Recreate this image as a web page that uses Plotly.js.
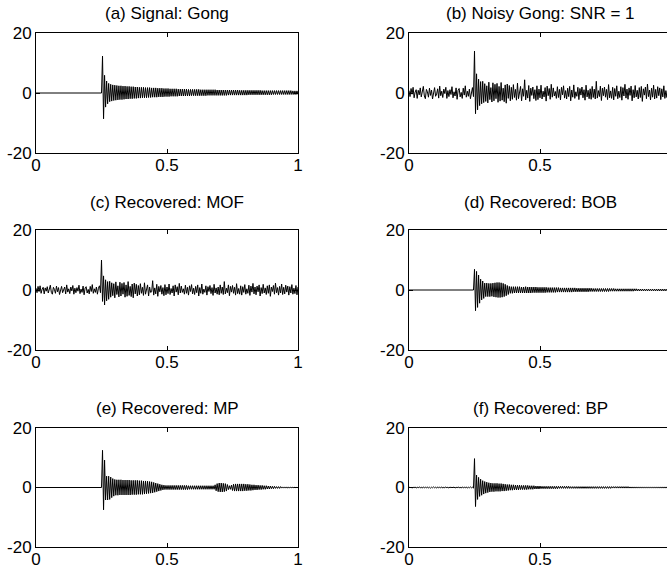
<!DOCTYPE html>
<html>
<head>
<meta charset="utf-8">
<script src="https://cdn.plot.ly/plotly-3.0.1.min.js"></script>
<style>
html,body{margin:0;padding:0;overflow:hidden;background:#fff;}
#chart{width:700px;height:573px;}
</style>
</head>
<body>
<div id="chart"></div>
<script>
// Sample grid: 256 samples per unit time (index k -> t = k/256)
const samplesPerUnit = 256;

const panelTitles = ["(a) Signal: Gong", "(b) Noisy Gong: SNR = 1", "(c) Recovered: MOF",
                     "(d) Recovered: BOB", "(e) Recovered: MP", "(f) Recovered: BP"];
const xTickVals = [0, 0.5, 1];
const xTickTextLeft = ["0", "0.5", "1"];
const xTickTextRight = ["0", "0.5", ""];   // the "1" of the right column lies beyond the window edge
const yTickVals = [-20, 0, 20];
const yTickText = ["-20", "0", "20"];

// (a) Signal: Gong
const gong = [
0,0,0,0,0,0,0,0,0,0,0,0,0,0,0,0,0,0,0,0,0,0,0,0,0,0,0,0,0,0,0,0,0,0,0,0,0,0,0,0,
0,0,0,0,0,0,0,0,0,0,0,0,0,0,0,0,0,0,0,0,0,0,0,0,0,
12.3,-8.6,5.9,-4.7,4.0,-3.6,3.2,-2.9,2.9,-2.7,2.7,-2.5,2.6,-2.4,2.5,-2.3,2.4,-2.2,2.4,-2.2,
2.3,-2.1,2.3,-2.0,2.2,-2.0,2.2,-1.9,2.1,-1.9,2.1,-1.8,2.0,-1.8,2.0,-1.7,1.9,-1.7,1.9,-1.6,
1.9,-1.6,1.8,-1.6,1.8,-1.5,1.8,-1.5,1.7,-1.4,1.7,-1.4,1.7,-1.4,1.6,-1.3,1.6,-1.3,1.6,-1.3,
1.5,-1.2,1.5,-1.2,1.5,-1.2,1.4,-1.1,1.4,-1.1,1.4,-1.1,1.4,-1.1,1.3,-1.0,1.3,-1.0,1.3,-1.0,
1.3,-1.0,1.3,-1.0,1.2,-1.0,1.2,-0.9,1.2,-0.9,1.2,-0.9,1.2,-0.9,1.2,-0.9,1.1,-0.9,1.1,-0.9,
1.1,-0.9,1.1,-0.8,1.1,-0.8,1.1,-0.8,1.1,-0.8,1.1,-0.8,1.0,-0.8,1.0,-0.8,1.0,-0.8,1.0,-0.8,
1.0,-0.8,1.0,-0.7,1.0,-0.7,1.0,-0.7,1.0,-0.7,1.0,-0.7,1.0,-0.7,0.9,-0.7,0.9,-0.7,0.9,-0.7,
0.9,-0.7,0.9,-0.6,0.9,-0.6,0.9,-0.6,0.9,-0.6,0.9,-0.6,0.9,-0.6,0.9,-0.6,0.8,-0.6,0.8,-0.6,
0.8,-0.6,0.8,-0.6,0.8,-0.6,0.8,-0.5,0.8,-0.5,0.8,-0.5,0.8,-0.5,0.8,-0.5,0.8,-0.5,0.8,-0.5,
0.8,-0.5,0.8,-0.5,0.8,-0.5,0.7,-0.5,0.7,-0.5,0.7,-0.5
];

// (b) Noisy Gong: SNR = 1
const noisyGong = [
0.8,-1.2,1.5,-0.4,1.9,-1.6,0.3,1.1,-1.8,0.9,-0.6,1.7,-1.3,0.5,2.2,-1.0,-1.9,1.2,0.4,-1.4,
1.6,-0.8,1.0,-2.0,0.7,1.8,-1.1,-0.3,1.4,-1.7,2.3,-0.9,0.6,-1.5,1.3,-0.2,1.9,-1.8,0.8,-1.2,
1.1,-0.5,2.1,-1.6,0.4,-1.0,1.7,-2.1,0.9,1.5,-1.3,0.2,-1.8,1.6,-0.7,2.4,-1.4,0.6,-1.1,1.3,
-1.9,0.8,1.8,-1.2,
14.0,-6.9,6.4,-5.6,4.6,-4.2,3.8,-3.6,3.9,-3.2,
3.1,-2.8,2.4,-3.3,3.6,-2.2,1.8,-3.0,3.4,-2.6,2.9,-1.9,3.2,-3.1,2.2,-2.7,3.5,-2.4,1.6,-2.9,2.7,-3.4,3.0,-1.8,2.5,-2.6,1.9,
-2.1,2.8,-1.5,1.2,-2.4,3.3,-1.9,0.7,2.2,-2.6,1.4,-1.1,4.4,-2.3,0.9,-1.7,2.5,-2.8,1.6,-0.8,
2.0,-1.9,1.1,-2.5,2.4,-2.2,1.3,-1.6,2.6,-2.0,0.6,-1.3,1.8,-2.7,2.3,-0.9,1.5,-2.1,2.9,-1.4,
1.7,-1.0,0.5,-1.8,2.1,-1.5,1.2,-2.3,1.9,-0.6,2.4,-1.7,0.8,-2.0,1.6,-1.2,2.2,-2.6,1.0,-1.4,
2.7,-1.8,0.4,-1.1,1.9,-2.2,1.5,-0.7,2.0,-1.6,1.1,-2.4,2.6,-1.3,0.9,-1.9,1.4,-2.1,2.2,-1.5,
1.3,-2.0,3.9,-1.7,0.8,-1.2,2.3,-2.5,1.6,-0.9,2.0,-1.4,1.2,-2.2,2.8,-1.6,0.7,-1.8,1.9,-2.3,
1.5,-1.1,2.4,-1.9,0.6,-1.5,2.1,-2.4,1.8,-1.0,2.9,-1.7,1.3,-2.1,1.7,-0.8,2.3,-2.6,1.1,-1.6,
2.5,-1.3,0.9,-2.0,1.8,-1.5,2.2,-2.8,1.4,-0.7,2.0,-1.9,3.0,-1.2,1.0,-2.3,1.6,-1.4,2.6,-2.0,
1.2,-1.7,2.1,-0.9,1.7,-2.2,1.4,-1.3,2.4,-1.8,0.8,-1.5,1.9,-2.1,1.3,-1.0
];

// (c) Recovered: MOF
const recMOF = [
0.6,-0.9,1.2,-0.5,1.4,-1.1,0.3,0.9,-1.3,0.7,-0.4,1.1,-1.0,0.5,1.6,-0.8,-1.4,0.9,0.2,-1.1,
1.3,-0.6,0.8,-1.5,0.5,1.2,-0.9,-0.2,1.0,-1.3,1.7,-0.7,0.4,-1.2,1.0,-0.3,1.5,-1.4,0.6,-0.9,
0.8,-0.4,1.6,-1.2,0.3,-0.8,1.3,-1.6,0.7,1.1,-1.0,0.2,-1.3,1.2,-0.5,1.8,-1.1,0.4,-0.8,1.0,
-1.4,0.6,1.4,-0.9,
10.0,-3.8,4.7,-5.0,3.4,-3.6,2.8,-3.1,2.9,-2.4,
2.4,-1.9,2.1,-2.6,2.7,-1.5,1.4,-2.3,2.6,-2.0,2.2,-1.4,2.5,-2.4,1.7,-2.1,2.8,-1.8,1.2,-2.2,2.0,-2.6,2.3,-1.3,1.9,-2.0,1.5,
-1.6,2.1,-1.1,0.9,-1.8,2.4,-1.4,0.5,1.7,-2.0,1.0,-0.8,-0.6,3.1,-1.7,0.7,-1.3,1.9,-2.1,1.2,
-0.6,1.5,-1.4,0.8,-1.9,1.8,-1.6,1.0,-1.2,2.0,-1.5,0.5,-1.0,1.4,-2.0,1.7,-0.7,1.1,-1.6,2.2,
-1.0,1.3,-0.8,0.4,-1.4,1.6,-1.1,0.9,-1.7,1.4,-0.5,1.8,-1.3,0.6,-1.5,1.2,-0.9,1.7,-2.0,0.8,
-1.1,2.0,-1.4,0.3,-0.8,1.4,-1.7,1.1,-0.5,1.5,-1.2,0.8,-1.8,1.9,-1.0,0.7,-1.4,1.0,-1.6,1.7,
-1.1,1.0,-1.5,2.8,-1.3,0.6,-0.9,1.7,-1.9,1.2,-0.7,1.5,-1.1,0.9,-1.7,2.1,-1.2,0.5,-1.4,1.4,
-1.7,1.1,-0.8,1.8,-1.4,0.4,-1.1,1.6,-1.8,1.3,-0.7,2.2,-1.3,1.0,-1.6,1.3,-0.6,1.7,-2.0,0.8,
-1.2,1.9,-1.0,0.7,-1.5,1.4,-1.1,1.7,-2.1,1.0,-0.5,1.5,-1.4,2.3,-0.9,0.8,-1.7,1.2,-1.0,2.0,
-1.5,0.9,-1.3,1.6,-0.7,1.3,-1.7,1.1,-1.0,1.8,-1.4,0.6,-1.2,1.5,-1.6,1.0
];

// (d) Recovered: BOB
const recBOB = [
0,0,0,0,0,0,0,0,0,0,0,0,0,0,0,0,0,0,0,0,0,0,0,0,0,0,0,0,0,0,0,0,
0,0,0,0,0,0,0,0,0,0,0,0,0,0,0,0,0,0,0,0,0,0,0,0,0,0,0,0,0,0,0,0,
6.9,-6.9,6.2,-5.8,5.0,-4.4,3.6,-3.3,3.0,-2.8,
2.3,-2.2,2.3,-2.2,2.2,-2.2,2.2,-2.1,
2.3,-2.3,2.4,-2.4,2.5,-2.5,2.5,-2.5,2.4,-2.4,2.2,-2.2,1.9,-1.9,1.5,-1.5,
1.2,-1.1,1.1,-1.1,1.1,-1.0,1.1,-1.0,1.1,-1.0,1.1,-1.0,1.0,-1.0,1.0,-1.0,1.1,-1.0,1.0,-1.0,
1.0,-1.0,1.0,-0.9,1.0,-0.9,1.0,-0.9,0.9,-0.9,0.9,-0.9,0.9,-0.9,0.9,-0.9,0.9,-0.8,0.8,-0.8,
0.8,-0.8,0.8,-0.8,0.8,-0.8,0.8,-0.7,0.8,-0.7,0.7,-0.7,0.7,-0.7,0.7,-0.7,0.7,-0.7,0.7,-0.7,
0.7,-0.7,0.7,-0.6,0.7,-0.6,0.6,-0.6,0.6,-0.6,0.6,-0.6,0.6,-0.6,0.6,-0.6,0.6,-0.6,0.6,-0.5,
0.6,-0.5,0.5,-0.5,0.5,-0.5,0.5,-0.5,0.5,-0.5,0.5,-0.5,0.5,-0.5,0.5,-0.5,0.5,-0.5,0.5,-0.4,
0.5,-0.4,0.5,-0.4,0.4,-0.4,0.4,-0.4,0.4,-0.4,0.4,-0.4,0.4,-0.4,0.4,-0.4,0.4,-0.4,0.4,-0.4,
0.4,-0.4,0.4,-0.3,0.4,-0.3,0.3,-0.3,0.3,-0.3,0.3,-0.3,0.3,-0.3,0.3,-0.3,0.3,-0.3,0.3,-0.3,
0.3,-0.3,0.3,-0.3,0.3,-0.3,0.3,-0.3,0.3,-0.3,0.3,-0.3,0.3,-0.3,0.3,-0.3,0.3,-0.3,0.3
];

// (e) Recovered: MP
const recMP = [
0,0,0,0,0,0,0,0,0,0,0,0,0,0,0,0,0,0,0,0,0,0,0,0,0,0,0,0,0,0,0,0,
0,0,0,0,0,0,0,0,0,0,0,0,0,0,0,0,0,0,0,0,0,0,0,0,0,0,0,0,0,0,0,0,0,
12.5,-7.5,9.2,-4.2,3.8,-4.2,3.8,-4.0,3.5,-3.4,
3.0,-2.9,2.7,-2.6,2.6,-2.6,2.6,-2.5,2.6,-2.5,2.5,-2.5,2.5,-2.5,2.5,-2.5,2.5,-2.5,2.4,-2.4,
2.4,-2.4,2.4,-2.4,2.4,-2.3,2.3,-2.3,2.3,-2.3,2.2,-2.2,2.2,-2.1,2.1,-2.0,2.0,-1.9,1.9,-1.8,
1.7,-1.6,1.5,-1.4,1.3,-1.2,1.1,-1.0,0.9,-0.8,0.8,-0.7,0.7,-0.7,0.7,-0.7,0.7,-0.7,0.7,-0.7,
0.7,-0.7,0.7,-0.7,0.7,-0.7,0.7,-0.7,0.7,-0.7,0.7,-0.7,0.7,-0.7,0.6,-0.6,0.6,-0.6,0.6,-0.6,
0.6,-0.6,0.6,-0.6,0.6,-0.6,0.6,-0.6,0.6,-0.6,0.6,-0.6,0.6,-0.6,0.6,-0.6,0.6,-0.6,0.6,-0.6,
0.9,-1.1,1.3,-1.4,1.5,-1.5,1.5,-1.5,1.4,-1.4,1.3,-1.2,1.0,-0.7,0.6,-0.6,0.8,-1.0,1.1,-1.2,
1.2,-1.2,1.2,-1.2,1.2,-1.2,1.2,-1.2,1.2,-1.1,1.1,-1.1,1.1,-1.0,1.0,-1.0,0.9,-0.9,0.9,-0.8,
0.8,-0.8,0.8,-0.7,0.7,-0.7,0.7,-0.6,0.6,-0.6,0.6,-0.5,0.5,-0.5,0.5,-0.4,0.4,-0.4,0.4,-0.3,
0.3,-0.3,0.3,-0.3,0.3,-0.2,0.2,-0.2,0.2,-0.2,0.2,-0.2,0.1,-0.1,0.1,-0.1,0.1,-0.1,0.1,-0.1,
0.1,-0.1
];

// (f) Recovered: BP
const recBP = [
0.2,-0.1,0.1,-0.2,0.1,-0.1,0.2,-0.2,0.1,-0.1,0.2,-0.1,0.1,-0.2,0.2,-0.1,0.1,-0.1,0.2,-0.2,
0.1,-0.2,0.1,-0.1,0.2,-0.1,0.1,-0.2,0.2,-0.1,0.1,-0.1,0.2,-0.2,0.1,-0.1,0.2,-0.1,0.1,-0.2,
0.2,-0.1,0.1,-0.1,0.2,-0.2,0.1,-0.1,0.2,-0.1,0.1,-0.2,0.2,-0.1,0.1,-0.1,0.2,-0.2,0.1,-0.1,
0.2,-0.1,0.1,-0.2,
9.7,-6.4,4.2,-4.0,3.4,-3.0,2.8,-2.6,2.3,-2.2,
2.0,-1.9,1.8,-1.7,1.6,-1.5,1.5,-1.4,1.4,-1.4,1.4,-1.3,1.4,-1.3,1.3,-1.3,1.3,-1.2,1.2,-1.2,
1.1,-1.1,1.0,-1.0,1.0,-0.9,0.9,-0.9,0.9,-0.8,0.8,-0.8,0.8,-0.8,0.8,-0.7,0.7,-0.7,0.7,-0.7,
0.7,-0.7,0.7,-0.6,0.6,-0.6,0.6,-0.6,0.6,-0.5,0.5,-0.5,0.5,-0.5,0.5,-0.4,0.4,-0.4,0.4,-0.4,
0.4,-0.4,0.4,-0.4,0.4,-0.4,0.4,-0.4,0.4,-0.4,0.4,-0.4,0.4,-0.3,0.4,-0.3,0.4,-0.3,0.4,-0.3,
0.4,-0.3,0.4,-0.3,0.3,-0.3,0.3,-0.3,0.3,-0.3,0.3,-0.3,0.3,-0.3,0.3,-0.3,0.3,-0.3,0.3,-0.3,
0.3,-0.3,0.3,-0.3,0.3,-0.3,0.3,-0.3,0.3,-0.3,0.3,-0.3,0.3,-0.3,0.3,-0.3,0.3,-0.3,0.3,-0.3,
0.3,-0.3,0.3,-0.3,0.3,-0.2,0.3,-0.2,0.3,-0.2,0.3,-0.2,0.3,-0.2,0.3,-0.2,0.3,-0.2,0.3,-0.2,
0.3,-0.2,0.2,-0.2,0.2,-0.2,0.2,-0.2,0.2,-0.2,0.2,-0.2,0.2,-0.2,0.2,-0.2,0.2,-0.2,0.2,-0.2,
0.2,-0.2,0.2,-0.2,0.2,-0.2,0.2,-0.2,0.2,-0.2,0.2,-0.2,0.2,-0.2,0.2,-0.2,0.2,-0.2,0.2,-0.2,
0.2,-0.2,0.2
];

const seriesList = [gong, noisyGong, recMOF, recBOB, recMP, recBP];

// ---- layout geometry (pixels in a 700 x 573 paper, right column overflows the 667 window) ----
const W = 700, H = 573;
const colX = [[36, 298], [409, 671]];
const rowY = [[33, 153], [230, 350], [428, 547]];
const titleY = [13, 203, 408];
const FONT = "Liberation Sans, Arial, Helvetica, sans-serif";
const FS = 17;

const traces = [];
const layout = {
  width: W, height: H,
  margin: {l: 0, r: 0, t: 0, b: 0},
  paper_bgcolor: "#fff", plot_bgcolor: "#fff",
  showlegend: false,
  font: {family: FONT, size: FS, color: "#000"},
  annotations: []
};

seriesList.forEach((vals, i) => {
  const row = Math.floor(i / 2), col = i % 2;
  const n = i + 1;
  const xa = "x" + (n === 1 ? "" : n), ya = "y" + (n === 1 ? "" : n);
  const t = vals.map((_, k) => k / samplesPerUnit);
  traces.push({
    type: "scatter", mode: "lines", x: t, y: vals,
    xaxis: xa, yaxis: ya,
    line: {color: "#000", width: 1},
    hoverinfo: "skip"
  });
  const axCommon = {
    showgrid: false, zeroline: false, showline: true, linecolor: "#000", linewidth: 1,
    mirror: "ticks", ticks: "inside", ticklen: 4, tickcolor: "#000", tickwidth: 1,
    tickfont: {family: FONT, size: FS, color: "#000"}, fixedrange: true
  };
  layout["xaxis" + (n === 1 ? "" : n)] = Object.assign({}, axCommon, {
    domain: [colX[col][0] / W, colX[col][1] / W],
    range: [0, 1], tickmode: "array", tickvals: xTickVals,
    ticktext: col === 0 ? xTickTextLeft : xTickTextRight,
    ticklabelstandoff: -3,
    anchor: ya
  });
  layout["yaxis" + (n === 1 ? "" : n)] = Object.assign({}, axCommon, {
    domain: [1 - rowY[row][1] / H, 1 - rowY[row][0] / H],
    range: [-20, 20], tickmode: "array", tickvals: yTickVals, ticktext: yTickText,
    anchor: xa
  });
  layout.annotations.push({
    xref: "paper", yref: "paper",
    x: (colX[col][0] + colX[col][1]) / 2 / W, y: 1 - titleY[row] / H,
    xanchor: "center", yanchor: "middle", showarrow: false,
    text: panelTitles[i], font: {family: FONT, size: FS, color: "#000"}
  });
});

Plotly.newPlot("chart", traces, layout, {staticPlot: true, displayModeBar: false});
</script>
</body>
</html>
